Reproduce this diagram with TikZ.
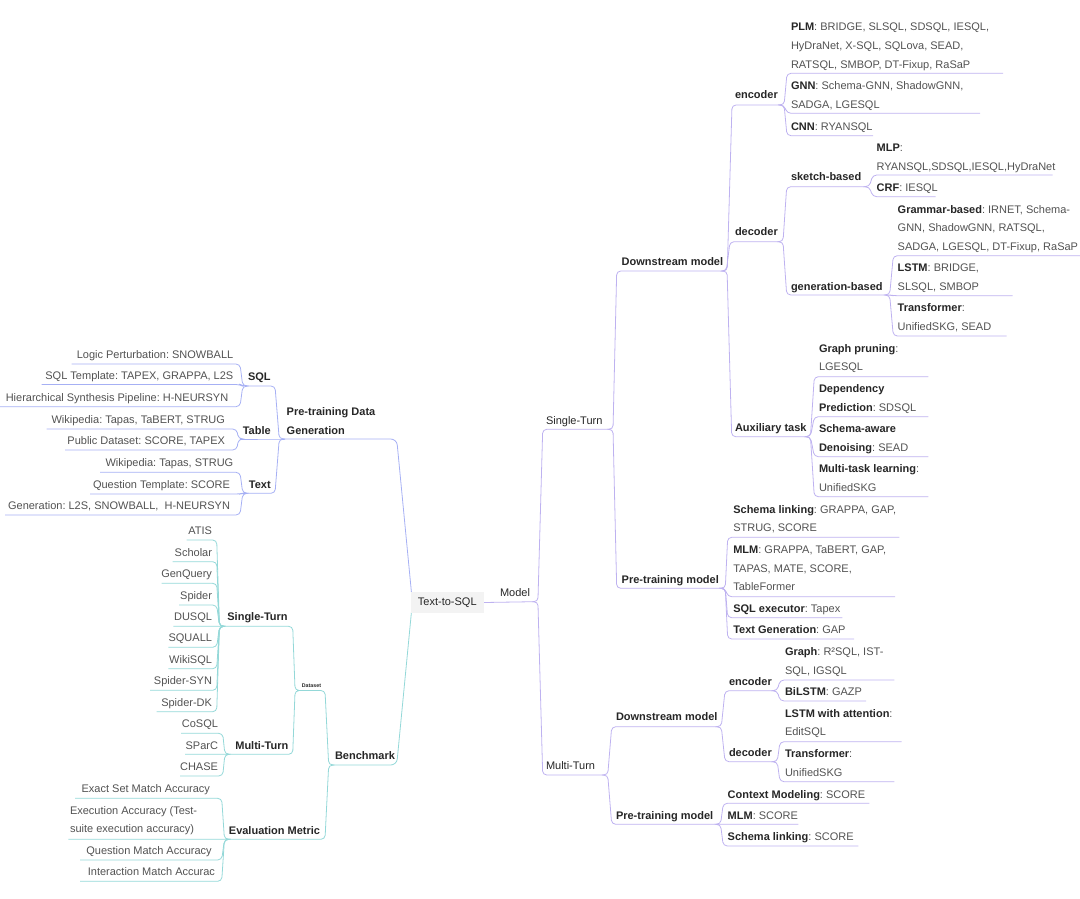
\documentclass[tikz,border=0pt]{standalone}
\usepackage{fontspec}
\setmainfont{Liberation Sans}
\usetikzlibrary{calc}
\frenchspacing
\definecolor{purp}{RGB}{190,178,240}
\definecolor{blu}{RGB}{166,176,244}
\definecolor{tealc}{RGB}{148,216,216}
\definecolor{tn}{RGB}{82,82,82}
\definecolor{tb}{RGB}{38,38,38}
\definecolor{rootfill}{RGB}{243,243,243}
\newcommand\bl[1]{\textbf{\color{tb}#1}}
\newcommand\lnk[2]{\draw[lk] (#1B) -- ($(#1B)!.45!(#2A|-#1B)$) -- (#2A) -- (#2B);}
\begin{document}
\begin{tikzpicture}[x=1pt,y=-1pt,
  t/.style={inner sep=0pt, outer sep=0pt, font=\fontsize{11}{13}\selectfont\frenchspacing, text=tn},
  b/.style={t, font=\fontsize{11}{13}\selectfont\bfseries, text=tb},
  r/.style={t, text=tb},
  lk/.style={rounded corners=4pt, line width=0.8pt}]
\useasboundingbox (0,0) rectangle (1080,899);

% ---------------- coordinates: right side (A = near parent, B = far end)
\coordinate (modelB) at (534,601.7);
\coordinate (stA) at (542.7,429.3); \coordinate (stB) at (610,429.3);
\coordinate (mtA) at (542.7,775); \coordinate (mtB) at (604.5,775);
\coordinate (dsA) at (616.7,271); \coordinate (dsB) at (723.3,271);
\coordinate (ptA) at (616.7,588.3); \coordinate (ptB) at (723.3,588.3);
\coordinate (encA) at (732,105); \coordinate (encB) at (781.7,105);
\coordinate (decA) at (730,241.7); \coordinate (decB) at (780,241.7);
\coordinate (auxA) at (731.7,436.7); \coordinate (auxB) at (807.3,436.7);
\coordinate (plmA) at (787,73.3); \coordinate (plmB) at (1003,73.3);
\coordinate (gnnA) at (787,113.3); \coordinate (gnnB) at (980,113.3);
\coordinate (cnnA) at (787,135.7); \coordinate (cnnB) at (873,135.7);
\coordinate (skA) at (786.7,186.7); \coordinate (skB) at (866.7,186.7);
\coordinate (genA) at (786.7,295); \coordinate (genB) at (886.7,295);
\coordinate (mlpA) at (872.7,175); \coordinate (mlpB) at (1052.7,175);
\coordinate (crfA) at (872.7,196.7); \coordinate (crfB) at (935.7,196.7);
\coordinate (grA) at (893.3,255.7); \coordinate (grB) at (1080,255.7);
\coordinate (lstmA) at (893.3,295.7); \coordinate (lstmB) at (1012.7,295.7);
\coordinate (trA) at (893.3,336); \coordinate (trB) at (1006.7,336);
\coordinate (gpA) at (814.3,376.7); \coordinate (gpB) at (928.3,376.7);
\coordinate (dpA) at (814.3,416.7); \coordinate (dpB) at (928.3,416.7);
\coordinate (saA) at (814.3,456.7); \coordinate (saB) at (928.3,456.7);
\coordinate (mtlA) at (814.3,496.7); \coordinate (mtlB) at (928.3,496.7);
\coordinate (slA) at (727.7,537.3); \coordinate (slB) at (899.3,537.3);
\coordinate (mlmA) at (727.7,596.7); \coordinate (mlmB) at (895,596.7);
\coordinate (seA) at (727.7,617.7); \coordinate (seB) at (842.3,617.7);
\coordinate (tgA) at (727.7,639); \coordinate (tgB) at (854,639);
\coordinate (mdsA) at (611.7,726.7); \coordinate (mdsB) at (718.3,726.7);
\coordinate (mptA) at (611.7,824.3); \coordinate (mptB) at (718.3,824.3);
\coordinate (mencA) at (725,690.7); \coordinate (mencB) at (775,690.7);
\coordinate (mdecA) at (725,761.7); \coordinate (mdecB) at (775,761.7);
\coordinate (mgA) at (780,680); \coordinate (mgB) at (894.3,680);
\coordinate (mbiA) at (780,701); \coordinate (mbiB) at (866,701);
\coordinate (mlaA) at (780,741.7); \coordinate (mlaB) at (901.7,741.7);
\coordinate (mtrA) at (780,781.7); \coordinate (mtrB) at (894.3,781.7);
\coordinate (cmA) at (723.3,803.3); \coordinate (cmB) at (869.3,803.3);
\coordinate (mmA) at (723.3,824.3); \coordinate (mmB) at (798.3,824.3);
\coordinate (mslA) at (723.3,846); \coordinate (mslB) at (858.3,846);

% ---------------- coordinates: left side
\coordinate (rootNW) at (411.5,593);
\coordinate (rootSW) at (411.5,611.5);
\coordinate (pdgA) at (396.7,439); \coordinate (pdgB) at (282.7,439);
\coordinate (sqlA) at (275,386); \coordinate (sqlB) at (245,386);
\coordinate (tblA) at (279,439); \coordinate (tblB) at (240,439);
\coordinate (txtA) at (275,493.3); \coordinate (txtB) at (245,493.3);
\coordinate (lpA) at (240,364); \coordinate (lpB) at (71.7,364);
\coordinate (stmA) at (240,384.5); \coordinate (stmB) at (41.7,384.5);
\coordinate (hsA) at (240,406.7); \coordinate (hsB) at (0,406.7);
\coordinate (w1A) at (236.7,429); \coordinate (w1B) at (46.7,429);
\coordinate (pdA) at (236.7,450); \coordinate (pdB) at (65,450);
\coordinate (w2A) at (240,472.3); \coordinate (w2B) at (100,472.3);
\coordinate (qtA) at (240,494); \coordinate (qtB) at (90,494);
\coordinate (genlA) at (240,515); \coordinate (genlB) at (5,515);
\coordinate (bmA) at (396.7,765); \coordinate (bmB) at (331.7,765);
\coordinate (dsetA) at (325,690.5); \coordinate (dsetB) at (297,690.5);
\coordinate (bstA) at (292.7,626.3); \coordinate (bstB) at (221.7,626.3);
\coordinate (bmtA) at (292.7,754.3); \coordinate (bmtB) at (226.7,754.3);
\coordinate (emA) at (325,839.3); \coordinate (emB) at (226.7,839.3);
\coordinate (atisA) at (216.7,540); \coordinate (atisB) at (186.7,540);
\coordinate (schA) at (216.7,561.7); \coordinate (schB) at (172.7,561.7);
\coordinate (gqA) at (216.7,583.3); \coordinate (gqB) at (161.7,583.3);
\coordinate (spA) at (216.7,605); \coordinate (spB) at (179,605);
\coordinate (duA) at (216.7,626.3); \coordinate (duB) at (173.3,626.3);
\coordinate (sqA) at (216.7,647.3); \coordinate (sqB) at (168.3,647.3);
\coordinate (wkA) at (216.7,668.7); \coordinate (wkB) at (168.3,668.7);
\coordinate (ssA) at (216.7,690.3); \coordinate (ssB) at (150,690.3);
\coordinate (sdA) at (216.7,711.7); \coordinate (sdB) at (156.7,711.7);
\coordinate (coA) at (222.7,733.3); \coordinate (coB) at (181,733.3);
\coordinate (spcA) at (222.7,754.3); \coordinate (spcB) at (185,754.3);
\coordinate (chA) at (222.7,776); \coordinate (chB) at (180,776);
\coordinate (esA) at (221.7,798.3); \coordinate (esB) at (75,798.3);
\coordinate (exA) at (226.7,839.3); \coordinate (exB) at (68.3,839.3);
\coordinate (qmA) at (221.7,860); \coordinate (qmB) at (80,860);
\coordinate (imA) at (221.7,881.3); \coordinate (imB) at (80,881.3);

% ---------------- connectors
\node[fill=rootfill, minimum width=73.3pt, minimum height=21.6pt, inner sep=0pt] (root) at (447.3,602.5) {};
\begin{scope}[purp]
\draw[lk] (root.east) -- (modelB);
\lnk{model}{st} \lnk{model}{mt}
\lnk{st}{ds} \lnk{st}{pt}
\lnk{ds}{enc} \lnk{ds}{dec} \lnk{ds}{aux}
\lnk{enc}{plm} \lnk{enc}{gnn} \lnk{enc}{cnn}
\lnk{dec}{sk} \lnk{dec}{gen}
\lnk{sk}{mlp} \lnk{sk}{crf}
\lnk{gen}{gr} \lnk{gen}{lstm} \lnk{gen}{tr}
\lnk{aux}{gp} \lnk{aux}{dp} \lnk{aux}{sa} \lnk{aux}{mtl}
\lnk{pt}{sl} \lnk{pt}{mlm} \lnk{pt}{se} \lnk{pt}{tg}
\lnk{mt}{mds} \lnk{mt}{mpt}
\lnk{mds}{menc} \lnk{mds}{mdec}
\lnk{menc}{mg} \lnk{menc}{mbi}
\lnk{mdec}{mla} \lnk{mdec}{mtr}
\lnk{mpt}{cm} \lnk{mpt}{mm} \lnk{mpt}{msl}
\end{scope}
\begin{scope}[blu]
\draw[lk, rounded corners=6pt] (pdgB) -- (pdgA) -- (rootNW);
\lnk{pdg}{sql} \lnk{pdg}{tbl} \lnk{pdg}{txt}
\lnk{sql}{lp} \lnk{sql}{stm} \lnk{sql}{hs}
\lnk{tbl}{w1} \lnk{tbl}{pd}
\lnk{txt}{w2} \lnk{txt}{qt} \lnk{txt}{genl}
\end{scope}
\begin{scope}[tealc]
\draw[lk, rounded corners=6pt] (bmB) -- (bmA) -- (rootSW);
\lnk{bm}{dset} \lnk{bm}{em}
\lnk{dset}{bst} \lnk{dset}{bmt}
\lnk{bst}{atis} \lnk{bst}{sch} \lnk{bst}{gq} \lnk{bst}{sp} \lnk{bst}{du}
\lnk{bst}{sq} \lnk{bst}{wk} \lnk{bst}{ss} \lnk{bst}{sd}
\lnk{bmt}{co} \lnk{bmt}{spc} \lnk{bmt}{ch}
\lnk{em}{es} \lnk{em}{ex} \lnk{em}{qm} \lnk{em}{im}
\end{scope}

% ---------------- root
\node[fill=rootfill, minimum width=73.3pt, minimum height=21.6pt, inner sep=0pt, font=\fontsize{11}{13}\selectfont, text=tb] (rootbox) at (447.3,602.5) {Text-to-SQL};

% ---------------- right side texts
\node[r, anchor=base west] (model) at (500,596.7) {Model};
\node[r, anchor=base west] (st) at (546,424) {Single-Turn};
\node[r, anchor=base west] (mt) at (546,769.7) {Multi-Turn};
\node[b, anchor=base west] (ds) at (621.7,265) {Downstream model};
\node[b, anchor=base west] (pt) at (621.7,583) {Pre-training model};
\node[b, anchor=base west] (enc) at (735,99) {encoder};
\node[b, anchor=base west] (dec) at (735,235.7) {decoder};
\node[b, anchor=base west] (aux) at (735,431.3) {Auxiliary task};
\node[t, anchor=base west] (plm1) at (791,30.7) {\bl{PLM}: BRIDGE, SLSQL, SDSQL, IESQL,};
\node[t, anchor=base west] (plm2) at (791,50) {HyDraNet, X-SQL, SQLova, SEAD,};
\node[t, anchor=base west] (plm3) at (791,68.3) {RATSQL, SMBOP, DT-Fixup, RaSaP};
\node[t, anchor=base west] (gnn1) at (791,90) {\bl{GNN}: Schema-GNN, ShadowGNN,};
\node[t, anchor=base west] (gnn2) at (791,108.3) {SADGA, LGESQL};
\node[t, anchor=base west] (cnn) at (791,130) {\bl{CNN}: RYANSQL};
\node[b, anchor=base west] (sk) at (791,180.7) {sketch-based};
\node[b, anchor=base west] (gen) at (791,290.7) {generation-based};
\node[t, anchor=base west] (mlp1) at (876.7,151.3) {\bl{MLP}:};
\node[t, anchor=base west] (mlp2) at (876.7,170) {RYANSQL,SDSQL,IESQL,HyDraNet};
\node[t, anchor=base west] (crf) at (876.7,191.3) {\bl{CRF}: IESQL};
\node[t, anchor=base west] (gr1) at (897.7,213.3) {\bl{Grammar-based}: IRNET, Schema-};
\node[t, anchor=base west] (gr2) at (897.7,231.7) {GNN, ShadowGNN, RATSQL,};
\node[t, anchor=base west] (gr3) at (897.7,250.7) {SADGA, LGESQL, DT-Fixup, RaSaP};
\node[t, anchor=base west] (lstm1) at (897.7,271.3) {\bl{LSTM}: BRIDGE,};
\node[t, anchor=base west] (lstm2) at (897.7,290) {SLSQL, SMBOP};
\node[t, anchor=base west] (tr1) at (897.7,311.7) {\bl{Transformer}:};
\node[t, anchor=base west] (tr2) at (897.7,330.7) {UnifiedSKG, SEAD};
\node[t, anchor=base west] (gp1) at (819,352.3) {\bl{Graph pruning}:};
\node[t, anchor=base west] (gp2) at (819,370.7) {LGESQL};
\node[t, anchor=base west] (dp1) at (819,392.3) {\bl{Dependency}};
\node[t, anchor=base west] (dp2) at (819,411.3) {\bl{Prediction}: SDSQL};
\node[t, anchor=base west] (sa1) at (819,432.3) {\bl{Schema-aware}};
\node[t, anchor=base west] (sa2) at (819,451.3) {\bl{Denoising}: SEAD};
\node[t, anchor=base west] (mtl1) at (819,472.3) {\bl{Multi-task learning}:};
\node[t, anchor=base west] (mtl2) at (819,491.3) {UnifiedSKG};
\node[t, anchor=base west] (sl1) at (733.3,513) {\bl{Schema linking}: GRAPPA, GAP,};
\node[t, anchor=base west] (sl2) at (733.3,531.7) {STRUG, SCORE};
\node[t, anchor=base west] (mlm1) at (733.3,553.3) {\bl{MLM}: GRAPPA, TaBERT, GAP,};
\node[t, anchor=base west] (mlm2) at (733.3,572.3) {TAPAS, MATE, SCORE,};
\node[t, anchor=base west] (mlm3) at (733.3,590.7) {TableFormer};
\node[t, anchor=base west] (se) at (733.3,612.3) {\bl{SQL executor}: Tapex};
\node[t, anchor=base west] (tg) at (733.3,633.3) {\bl{Text Generation}: GAP};
\node[b, anchor=base west] (mds) at (616,720.7) {Downstream model};
\node[b, anchor=base west] (mpt) at (616,819) {Pre-training model};
\node[b, anchor=base west] (menc) at (729,685.7) {encoder};
\node[b, anchor=base west] (mdec) at (729,756.3) {decoder};
\node[t, anchor=base west] (mg1) at (785,655.7) {\bl{Graph}: R²SQL, IST-};
\node[t, anchor=base west] (mg2) at (785,674) {SQL, IGSQL};
\node[t, anchor=base west] (mbi) at (785,695.7) {\bl{BiLSTM}: GAZP};
\node[t, anchor=base west] (mla1) at (785,717.3) {\bl{LSTM with attention}:};
\node[t, anchor=base west] (mla2) at (785,735.7) {EditSQL};
\node[t, anchor=base west] (mtr1) at (785,757.3) {\bl{Transformer}:};
\node[t, anchor=base west] (mtr2) at (785,776.3) {UnifiedSKG};
\node[t, anchor=base west] (cm) at (727.7,798) {\bl{Context Modeling}: SCORE};
\node[t, anchor=base west] (mm) at (727.7,819) {\bl{MLM}: SCORE};
\node[t, anchor=base west] (msl) at (727.7,840.7) {\bl{Schema linking}: SCORE};

% ---------------- left side texts
\node[b, anchor=base west] (pdg1) at (286.7,415) {Pre-training Data};
\node[b, anchor=base west] (pdg2) at (286.7,434) {Generation};
\node[b, anchor=base east] (sql) at (270.7,380) {SQL};
\node[b, anchor=base east] (tbl) at (270.7,434) {Table};
\node[b, anchor=base east] (txt) at (270.7,488) {Text};
\node[t, anchor=base east] (lp) at (233.3,358.3) {Logic Perturbation: SNOWBALL};
\node[t, anchor=base east] (stm) at (233.3,379.7) {SQL Template: TAPEX, GRAPPA, L2S};
\node[t, anchor=base east] (hs) at (228.3,401.3) {Hierarchical Synthesis Pipeline: H-NEURSYN};
\node[t, anchor=base east] (w1) at (225,423.3) {Wikipedia: Tapas, TaBERT, STRUG};
\node[t, anchor=base east] (pd) at (225,444.7) {Public Dataset: SCORE, TAPEX};
\node[t, anchor=base east] (w2) at (233.3,466.7) {Wikipedia: Tapas, STRUG};
\node[t, anchor=base east] (qt) at (230,488) {Question Template: SCORE};
\node[t, anchor=base east] (genl) at (230,509.7) {Generation: L2S, SNOWBALL,\ \ H-NEURSYN};
\node[b, anchor=base west] (bm) at (335,759.7) {Benchmark};
\node[anchor=base west, inner sep=0pt, font=\fontsize{5.3}{6}\selectfont\bfseries, text=tb] (dset) at (301.7,687.5) {Dataset};
\node[b, anchor=base east] (bst) at (287.7,620.7) {Single-Turn};
\node[b, anchor=base east] (bmt) at (288.3,749) {Multi-Turn};
\node[b, anchor=base east] (em) at (320,834) {Evaluation Metric};
\node[t, anchor=base east] (atis) at (212,534.7) {ATIS};
\node[t, anchor=base east] (sch) at (212,556) {Scholar};
\node[t, anchor=base east] (gq) at (212,577.3) {GenQuery};
\node[t, anchor=base east] (sp) at (212,599) {Spider};
\node[t, anchor=base east] (du) at (212,620.7) {DUSQL};
\node[t, anchor=base east] (sq) at (212,641.7) {SQUALL};
\node[t, anchor=base east] (wk) at (212,663) {WikiSQL};
\node[t, anchor=base east] (ss) at (212,684.7) {Spider-SYN};
\node[t, anchor=base east] (sd) at (212,706.3) {Spider-DK};
\node[t, anchor=base east] (co) at (218,727.3) {CoSQL};
\node[t, anchor=base east] (spc) at (218,749) {SParC};
\node[t, anchor=base east] (ch) at (218,770.7) {CHASE};
\node[t, anchor=base east] (es) at (210,792.7) {Exact Set Match Accuracy};
\node[t, anchor=base west] (ex1) at (70,814) {Execution Accuracy (Test-};
\node[t, anchor=base west] (ex2) at (70,832.3) {suite execution accuracy)};
\node[t, anchor=base east] (qm) at (211.7,854.3) {Question Match Accuracy};
\node[t, anchor=base east] (im) at (215,875.7) {Interaction Match Accurac};
\end{tikzpicture}
\end{document}
